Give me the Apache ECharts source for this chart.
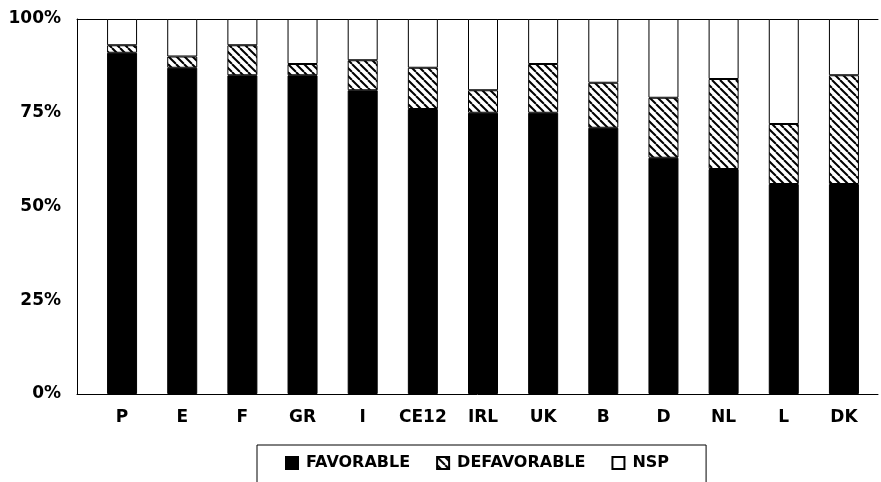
<!DOCTYPE html>
<html>
<head>
<meta charset="utf-8">
<script src="https://cdn.jsdelivr.net/npm/echarts@6/dist/echarts.min.js"></script>
<style>
  html, body { margin: 0; padding: 0; background: #fff; }
  #chart { width: 881px; height: 482px; }
</style>
</head>
<body>
<div id="chart"></div>
<script>
  // pays
  var countries = ['P', 'E', 'F', 'GR', 'I', 'CE12', 'IRL', 'UK', 'B', 'D', 'NL', 'L', 'DK'];
  // % favorable / defavorable / nsp
  var favorable = [91, 87, 85, 85, 81, 76, 75, 75, 71, 63, 60, 56, 56];
  var defavorable = [2, 3, 8, 3, 8, 11, 6, 13, 12, 16, 24, 16, 29];
  var nsp = [7, 10, 7, 12, 11, 13, 19, 12, 17, 21, 16, 28, 15];

  // motif hachuré "\"
  function hatch() {
    var s = 8;
    var c = document.createElement('canvas');
    c.width = s; c.height = s;
    var ctx = c.getContext('2d');
    ctx.fillStyle = '#fff';
    ctx.fillRect(0, 0, s, s);
    ctx.strokeStyle = '#000';
    ctx.lineWidth = 2;
    [-s, 0, s].forEach(function (x0) {
      ctx.beginPath();
      ctx.moveTo(x0, 0);
      ctx.lineTo(x0 + s, s);
      ctx.stroke();
    });
    return c;
  }

  var font = 'DejaVu Sans';
  var line = {show: true, onZero: false, lineStyle: {color: '#000', width: 1}};
  var myChart = echarts.init(document.getElementById('chart'), null, {renderer: 'canvas'});

  myChart.setOption({
    animation: false,
    grid: [
      {left: 92, right: 7, top: 19, bottom: 88},
      // cadre (haut / bas) plus large que les barres
      {left: 77, right: 3, top: 19, bottom: 88}
    ],
    legend: {
      data: ['FAVORABLE', 'DEFAVORABLE', 'NSP'],
      icon: 'rect',
      left: 257,
      top: 445,
      itemWidth: 12,
      itemHeight: 12,
      itemGap: 26,
      padding: [10, 37, 40, 28],
      borderColor: '#000',
      borderWidth: 1,
      textStyle: {fontFamily: font, fontWeight: 'bold', fontSize: 16, color: '#000', padding: [0, 0, 0, 3]}
    },
    xAxis: [{
      type: 'category',
      gridIndex: 0,
      data: countries,
      axisTick: {show: false},
      axisLine: {show: false},
      axisLabel: {interval: 0, fontFamily: font, fontWeight: 'bold', fontSize: 17, color: '#000', margin: 15}
    }, {
      type: 'value', gridIndex: 1, position: 'bottom', min: 0, max: 1,
      splitLine: {show: false}, axisTick: {show: false}, axisLabel: {show: false}, axisLine: line
    }, {
      type: 'value', gridIndex: 1, position: 'top', min: 0, max: 1,
      splitLine: {show: false}, axisTick: {show: false}, axisLabel: {show: false}, axisLine: line
    }],
    yAxis: [{
      type: 'value',
      gridIndex: 0,
      min: 0,
      max: 100,
      interval: 25,
      offset: 15,
      splitLine: {show: false},
      axisTick: {show: false},
      axisLine: line,
      axisLabel: {
        formatter: '{value}%',
        fontFamily: font, fontWeight: 'bold', fontSize: 17, color: '#000', margin: 16
      }
    }, {
      type: 'value', gridIndex: 1, min: 0, max: 1, show: false
    }],
    series: [
      {
        name: 'FAVORABLE', type: 'bar', stack: 'tot', barWidth: 30,
        itemStyle: {color: '#000', borderColor: '#000', borderWidth: 1},
        data: favorable
      },
      {
        name: 'DEFAVORABLE', type: 'bar', stack: 'tot', barWidth: 30,
        itemStyle: {color: {image: hatch(), repeat: 'repeat'}, borderColor: '#000', borderWidth: 1},
        data: defavorable
      },
      {
        name: 'NSP', type: 'bar', stack: 'tot', barWidth: 30,
        itemStyle: {color: '#fff', borderColor: '#000', borderWidth: 1},
        data: nsp
      }
    ]
  });
</script>
</body>
</html>
